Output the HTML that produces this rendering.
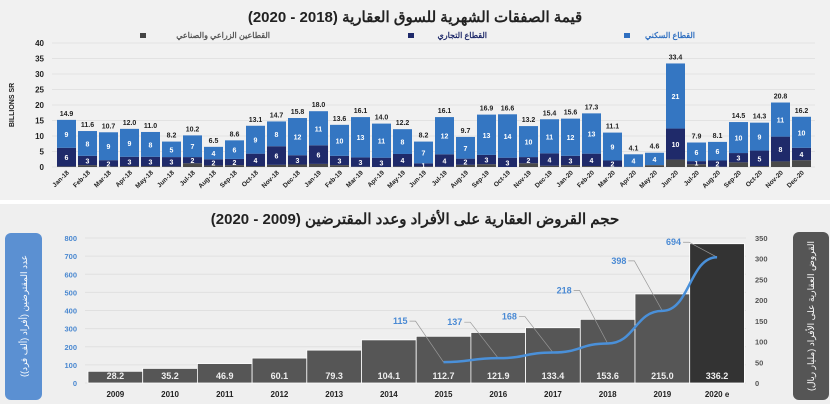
<!DOCTYPE html>
<html><head><meta charset="utf-8">
<style>
body{margin:0;width:830px;height:404px;background:#fff;overflow:hidden;font-family:"Liberation Sans","Noto Sans CJK SC",sans-serif}
svg{display:block}
</style></head><body>
<svg id="c" width="830" height="404" xmlns="http://www.w3.org/2000/svg">
<rect x="0" y="0" width="830" height="200" fill="#f1f1f1"/>
<rect x="0" y="204" width="830" height="200" fill="#efefef"/>
<text x="415" y="22" text-anchor="middle" font-size="15" font-weight="bold" fill="#222">قيمة الصفقات الشهرية للسوق العقارية (2018 - 2020)</text>
<g font-size="8" font-weight="bold">
<rect x="624" y="33" width="6" height="5" fill="#2f6fc0"/>
<text x="695" y="38" text-anchor="end" fill="#2f6fc0">القطاع السكني</text>
<rect x="408" y="33" width="6" height="5" fill="#1f2a6a"/>
<text x="487" y="38" text-anchor="end" fill="#1f2a6a">القطاع التجاري</text>
<rect x="140" y="33" width="6" height="5" fill="#444"/>
<text x="270" y="38" text-anchor="end" fill="#555">القطاعين الزراعي والصناعي</text>
</g>
<text transform="translate(14,105) rotate(-90)" text-anchor="middle" font-size="7" font-weight="bold" fill="#222">BILLIONS SR</text>
<g id="top"></g>
<text x="415" y="224" text-anchor="middle" font-size="15" font-weight="bold" fill="#222">حجم القروض العقارية على الأفراد وعدد المقترضين (2009 - 2020)</text>
<rect x="5" y="233" width="37" height="167" rx="6" fill="#5b90d2"/>
<text transform="translate(27,316) rotate(-90)" text-anchor="middle" font-size="9" fill="#fff">عدد المقترضين (أفراد (ألف فرد))</text>
<rect x="793" y="232" width="36" height="168" rx="6" fill="#555"/>
<text transform="translate(814,316) rotate(-90)" text-anchor="middle" font-size="9" fill="#fff">القروض العقارية على الأفراد (مليار ريال)</text>
<g id="bot"></g>
</svg>
<script>
const months=["Jan-18","Feb-18","Mar-18","Apr-18","May-18","Jun-18","Jul-18","Aug-18","Sep-18","Oct-18","Nov-18","Dec-18","Jan-19","Feb-19","Mar-19","Apr-19","May-19","Jun-19","Jul-19","Aug-19","Sep-19","Oct-19","Nov-19","Dec-19","Jan-20","Feb-20","Mar-20","Apr-20","May-20","Jun-20","Jul-20","Aug-20","Sep-20","Oct-20","Nov-20","Dec-20"];
const totals=[14.9,11.6,10.7,12.0,11.0,8.2,10.2,6.5,8.6,13.1,14.7,15.8,18.0,13.6,16.1,14.0,12.2,8.2,16.1,9.7,16.9,16.6,13.2,15.4,15.6,17.3,11.1,4.1,4.6,33.4,7.9,8.1,14.5,14.3,20.8,16.2];
const residential=[9,8,9,9,8,5,7,4,6,9,8,12,11,10,13,11,8,7,12,7,13,14,10,11,12,13,9,4,4,21,6,6,10,9,11,10];
const commercial=[6,3,2,3,3,3,2,2,2,4,6,3,6,3,3,3,4,1,4,2,3,3,2,4,3,4,2,0,0,10,1,2,3,5,8,4];
const agri=[0.2,0.6,0.2,0.3,0.3,0.2,1.2,0.5,0.6,0.3,0.7,0.8,1.0,0.6,0.1,0,0.2,0.2,0.1,0.7,0.9,0,1.2,0.4,0.6,0.3,0.1,0.1,0.6,2.4,0.9,0.1,1.5,0.3,1.8,2.2];
const topTicks=[0,5,10,15,20,25,30,35,40];

const years=["2009","2010","2011","2012","2013","2014","2015","2016","2017","2018","2019","2020 e"];
const loans=[28.2,35.2,46.9,60.1,79.3,104.1,112.7,121.9,133.4,153.6,215.0,336.2];
const borrowerYears=["2015","2016","2017","2018","2019","2020 e"];
const borrowers=[115,137,168,218,398,694];
const leftTicks=[0,100,200,300,400,500,600,700,800];
const rightTicks=[0,50,100,150,200,250,300,350];

const NS="http://www.w3.org/2000/svg";
function mk(tag,attrs,parent,txt){const e=document.createElementNS(NS,tag);for(const k in attrs)e.setAttribute(k,attrs[k]);if(txt!==undefined)e.textContent=txt;parent.appendChild(e);return e;}

// top chart
const T=document.getElementById('top');
const ty=v=>167-v*3.1, tx=i=>57+i*21;
topTicks.forEach(t=>{
  const l=mk('line',{x1:52,x2:815,y1:ty(t),y2:ty(t),stroke:'#e2e2e2','stroke-width':1},T);
  
  const s=mk('text',{x:44,y:ty(t)+3,'text-anchor':'end','font-size':8,'font-weight':'bold',fill:'#222'},T,t);
  
});
months.forEach((m,i)=>{
  const x=tx(i),w=19;let base=0;
  const segs=[[agri[i],'#4a4a4a'],[commercial[i],'#1f2a6a'],[residential[i],'#3476c2']];
  const names=['bar-agri','bar-commercial','bar-residential'];
  segs.forEach((s,k)=>{
    if(s[0]<=0)return;
    const r=mk('rect',{x:x,y:ty(base+s[0]),width:w,height:s[0]*3.1,fill:s[1]},T);
    
    if(k>0&&s[0]>=1){const lb=mk('text',{x:x+w/2,y:ty(base+s[0]/2)+3,'text-anchor':'middle','font-size':7,'font-weight':'bold',fill:'#fff'},T,s[0]);
      }
    base+=s[0];
  });
  const tl=mk('text',{x:x+w/2,y:ty(base)-4,'text-anchor':'middle','font-size':7,'font-weight':'bold',fill:'#222'},T,totals[i].toFixed(1));
  
  const xl=mk('text',{transform:`translate(${x+w/2+3},173) rotate(-45)`,'text-anchor':'end','font-size':6.5,'font-weight':'bold',fill:'#222'},T,m);
  
});

// bottom chart
const B=document.getElementById('bot');
const by=v=>383-v*145/350, ly=v=>383-v*145/800, bx=i=>88+i*54.7;
leftTicks.forEach(t=>{
  const l=mk('line',{x1:85,x2:746,y1:ly(t),y2:ly(t),stroke:'#e0e0e0','stroke-width':1},B);
  
  const s=mk('text',{x:77,y:ly(t)+3,'text-anchor':'end','font-size':7.5,'font-weight':'bold',fill:'#4a88d0'},B,t);
  
});
rightTicks.forEach(t=>{
  const s=mk('text',{x:755,y:by(t)+3,'font-size':7.5,'font-weight':'bold',fill:'#555'},B,t);
  
});
years.forEach((y,i)=>{
  const x=bx(i),w=54.7;
  const r=mk('rect',{x:x,y:by(loans[i]),width:w,height:loans[i]*145/350,fill:i==11?'#333':'#565656',stroke:'#fff','stroke-width':0.8},B);
  
  const v=mk('text',{x:x+w/2,y:379,'text-anchor':'middle','font-size':9,'font-weight':'bold',fill:'#eee'},B,loans[i].toFixed(1));
  
  const yl=mk('text',{x:x+w/2,y:397,'text-anchor':'middle','font-size':8,'font-weight':'bold',fill:'#222'},B,y);
  
});
let pts=borrowers.map((b,k)=>{const i=years.indexOf(borrowerYears[k]);return [bx(i)+27.35,ly(b)];});
// smooth-ish path
let d='M'+pts[0][0]+','+pts[0][1];
for(let k=1;k<pts.length;k++){const p0=pts[k-1],p1=pts[k];const cx=(p0[0]+p1[0])/2;d+=` C${cx},${p0[1]} ${cx},${p1[1]} ${p1[0]},${p1[1]}`;}
pts.forEach((p,k)=>{
  const lx=p[0]-38,lyy=p[1]-(k==5?12:(k==4?47:(k==3?50:(k==0?38:33))));
  const ln=mk('polyline',{points:`${lx+4},${lyy-3} ${lx+10},${lyy-3} ${p[0]},${p[1]}`,fill:'none',stroke:'#999','stroke-width':0.7},B);
  
  const t=mk('text',{x:lx+2,y:lyy,'text-anchor':'end','font-size':9,'font-weight':'bold',fill:'#4a8ad4'},B,borrowers[k]);
  
});
const pl=mk('path',{d:d,fill:'none',stroke:'#4a90d9','stroke-width':2.5},B);

</script>
</body></html>
